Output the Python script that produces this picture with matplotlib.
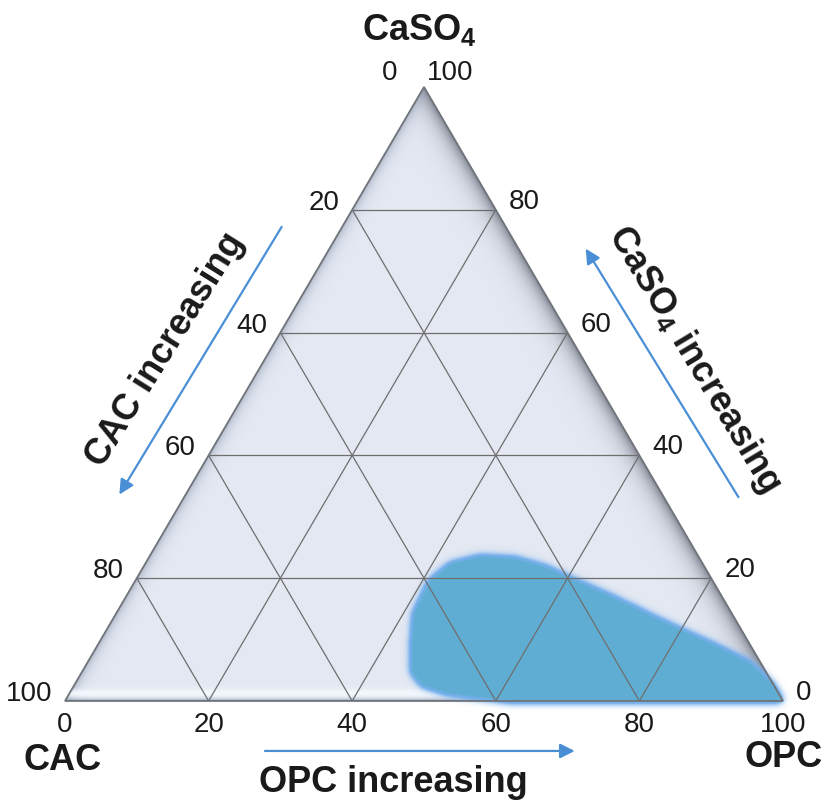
import numpy as np
import matplotlib
matplotlib.use("Agg")
import matplotlib.pyplot as plt
from matplotlib.path import Path
from matplotlib.patches import Polygon

plt.rcParams['font.family'] = ['Liberation Sans', 'DejaVu Sans']
plt.rcParams['mathtext.fontset'] = 'custom'
plt.rcParams['mathtext.rm'] = 'Liberation Sans'
plt.rcParams['mathtext.bf'] = 'Liberation Sans:bold'

# ---- data -------------------------------------------------------------
grid_levels = [20, 40, 60, 80]
tick_values = [0, 20, 40, 60, 80, 100]
corner_labels = ["CAC", "OPC", r"CaSO$_\mathbf{4}$"]
axis_titles = ["CAC increasing", "OPC increasing", r"CaSO$_\mathbf{4}$ increasing"]

# outline of the usable blend region (percent OPC, percent CaSO4)
region_opc = [46, 44, 41.5, 41, 42.5, 46, 51, 56, 60, 68, 77, 86, 92, 97,
              100, 90, 62, 52.5, 48.5]
region_caso4 = [4.7, 8.6, 14.3, 19.5, 22.4, 23.6, 23.3, 21.9, 20.2, 16.9,
                12.9, 9.1, 6.4, 2.9, 0, 0, 0, 1.3, 2.6]

H = np.sqrt(3) / 2


def tern(opc, caso4):
    """Convert OPC / CaSO4 percentages to cartesian plot coordinates."""
    o = np.asarray(opc, dtype=float) / 100.0
    c = np.asarray(caso4, dtype=float) / 100.0
    return o + c / 2.0, c * H


def blur(a, sigma):
    r = int(3 * sigma) + 1
    x = np.arange(-r, r + 1)
    k = np.exp(-0.5 * (x / sigma) ** 2)
    k /= k.sum()
    a = np.apply_along_axis(lambda row: np.convolve(row, k, mode='same'), 1, a)
    a = np.apply_along_axis(lambda col: np.convolve(col, k, mode='same'), 0, a)
    return a


fig = plt.figure(figsize=(8.24, 8.04), dpi=100)
ax = fig.add_axes([0, 0, 1, 1])
ax.set_xlim(-0.0905, 1.0571)
ax.set_ylim(-0.1439, 0.9901)
ax.axis('off')

PX_X = 718.0   # pixels per unit along x
PX_Y = 709.0   # pixels per unit along y

# ---- shaded triangle background ----------------------------------------
tri_xy = np.column_stack(tern([0, 100, 0], [0, 0, 100]))
tri = Polygon(tri_xy, closed=True, facecolor='none', edgecolor='none')
ax.add_patch(tri)

nx, ny = 760, 660
uu, vv = np.meshgrid(np.linspace(0, 1, nx), np.linspace(0, H, ny))
cc = vv / H
oo = uu - cc / 2
aa = 1 - oo - cc
alt = H * PX_X
d_base = vv * PX_Y
d_left = np.clip(oo, 0, None) * alt
d_right = np.clip(aa, 0, None) * alt

col = np.empty((ny, nx, 3))
col[:] = (0.893, 0.913, 0.952)


def mix(c, target, w):
    w = w[..., None]
    return c * (1 - w) + np.asarray(target) * w


col = mix(col, (0.40, 0.42, 0.47), 0.85 * np.exp(-d_right / 9.0))
col = mix(col, (0.55, 0.59, 0.67), 0.60 * np.exp(-d_left / 5.0))
col = mix(col, (0.97, 0.99, 1.00), 0.85 * np.exp(-((d_base - 7.0) / 4.5) ** 2))
col = mix(col, (0.50, 0.58, 0.66), 0.9 * np.exp(-d_base / 1.6))

bg = ax.imshow(col, origin='lower', extent=[0, 1, 0, H], interpolation='bilinear',
               aspect='auto', zorder=1)
bg.set_clip_path(tri)

# ---- blend region ---------------------------------------------------------
rx, ry = tern(region_opc, region_caso4)
region = Path(np.column_stack([rx, ry]), closed=False)
x0, x1, y0, y1 = 0.30, 1.08, -0.07, 0.32
gx = np.arange(x0, x1, 1 / PX_X / 1.5)
gy = np.arange(y0, y1, 1 / PX_Y / 1.5)
GX, GY = np.meshgrid(gx, gy)
mask = region.contains_points(np.column_stack([GX.ravel(), GY.ravel()])).reshape(GX.shape).astype(float)

# soft light-blue rim around the region
halo = np.clip(blur(mask, 6.0) * 3.5, 0, 1) * 0.95
halo_img = np.zeros(mask.shape + (4,))
halo_img[..., :3] = (0.45, 0.68, 0.93)
halo_img[..., 3] = halo
ax.imshow(halo_img, origin='lower', extent=[gx[0], gx[-1], gy[0], gy[-1]],
          aspect='auto', interpolation='bilinear', zorder=2)

core = np.clip(blur(mask, 1.8) * 1.1, 0, 1)
core_img = np.zeros(mask.shape + (4,))
core_img[..., :3] = (0.38, 0.68, 0.83)
core_img[..., 3] = core
ax.imshow(core_img, origin='lower', extent=[gx[0], gx[-1], gy[0], gy[-1]],
          aspect='auto', interpolation='bilinear', zorder=2.1)

# ---- grid -----------------------------------------------------------------
gkw = dict(color='#6e6e6e', lw=0.9, zorder=3, solid_capstyle='butt')
for g in grid_levels:
    x, y = tern([0, 100 - g], [g, g])          # constant CaSO4
    ax.plot(x, y, **gkw)
    x, y = tern([g, g], [0, 100 - g])          # constant OPC
    ax.plot(x, y, **gkw)
    x, y = tern([100 - g, 0], [0, 100 - g])    # constant CAC
    ax.plot(x, y, **gkw)

ax.add_patch(Polygon(tri_xy, closed=True, facecolor='none',
                     edgecolor='#6f737a', lw=1.3, zorder=4))

# ---- tick labels ------------------------------------------------------------
tkw = dict(fontsize=20, color='#1a1a1a', textcoords='offset points', zorder=5)
pt = 0.72  # points per pixel
for v in tick_values:
    # bottom edge: OPC
    x, y = tern([v], [0])
    ax.annotate(str(v), (x[0], y[0]), xytext=(0, -10 * pt), ha='center', va='top', **tkw)
    # left edge: CAC
    x, y = tern([0], [100 - v])
    if v == 0:
        ax.annotate(str(v), (x[0], y[0]), xytext=(-27 * pt, 8 * pt), ha='right', va='baseline', **tkw)
    else:
        ax.annotate(str(v), (x[0], y[0]), xytext=(-13 * pt, 1 * pt), ha='right', va='baseline', **tkw)
    # right edge: CaSO4
    x, y = tern([100 - v], [v])
    if v == 100:
        ax.annotate(str(v), (x[0], y[0]), xytext=(3 * pt, 8 * pt), ha='left', va='baseline', **tkw)
    else:
        ax.annotate(str(v), (x[0], y[0]), xytext=(13 * pt, 2 * pt), ha='left', va='baseline', **tkw)

# ---- corner labels ----------------------------------------------------------
bkw = dict(fontsize=26, fontweight='bold', color='#1a1a1a', zorder=5)
ax.text(-0.003, -0.082, corner_labels[0], ha='center', va='center', **bkw)
ax.text(1.001, -0.079, corner_labels[1], ha='center', va='center', **bkw)
ax.text(0.494, 0.948, corner_labels[2], ha='center', va='center', **bkw)

# ---- direction arrows and titles -------------------------------------------
akw = dict(arrowstyle='-|>', color='#4a8fd6', lw=1.6, mutation_scale=22,
           shrinkA=0, shrinkB=0)

# along the bottom
ax.annotate('', xy=(0.710, -0.0705), xytext=(0.2786, -0.0705), arrowprops=akw, zorder=5)
ax.text(0.457, -0.113, axis_titles[1], ha='center', va='center', **bkw)


def along_left(t, off):
    # point at fraction t along the CAC->CaSO4 edge, pushed outward by off
    return 0.5 * t - H * off, H * t + 0.5 * off


def along_right(t, off):
    # point at fraction t along the OPC->CaSO4 edge, pushed outward by off
    return 1 - 0.5 * t + H * off, H * t + 0.5 * off


ax.annotate('', xy=along_left(0.29, 0.080), xytext=along_left(0.73, 0.073),
            arrowprops=akw, zorder=5)
ax.text(*along_left(0.50, 0.128), axis_titles[0], rotation=58,
        rotation_mode='anchor', ha='center', va='center', **bkw)

ax.annotate('', xy=along_right(0.69, 0.081), xytext=along_right(0.28, 0.090),
            arrowprops=akw, zorder=5)
ax.text(*along_right(0.48, 0.134), axis_titles[2], rotation=-59,
        rotation_mode='anchor', ha='center', va='center', **bkw)

fig.savefig('out.png', dpi=100, facecolor='white')
